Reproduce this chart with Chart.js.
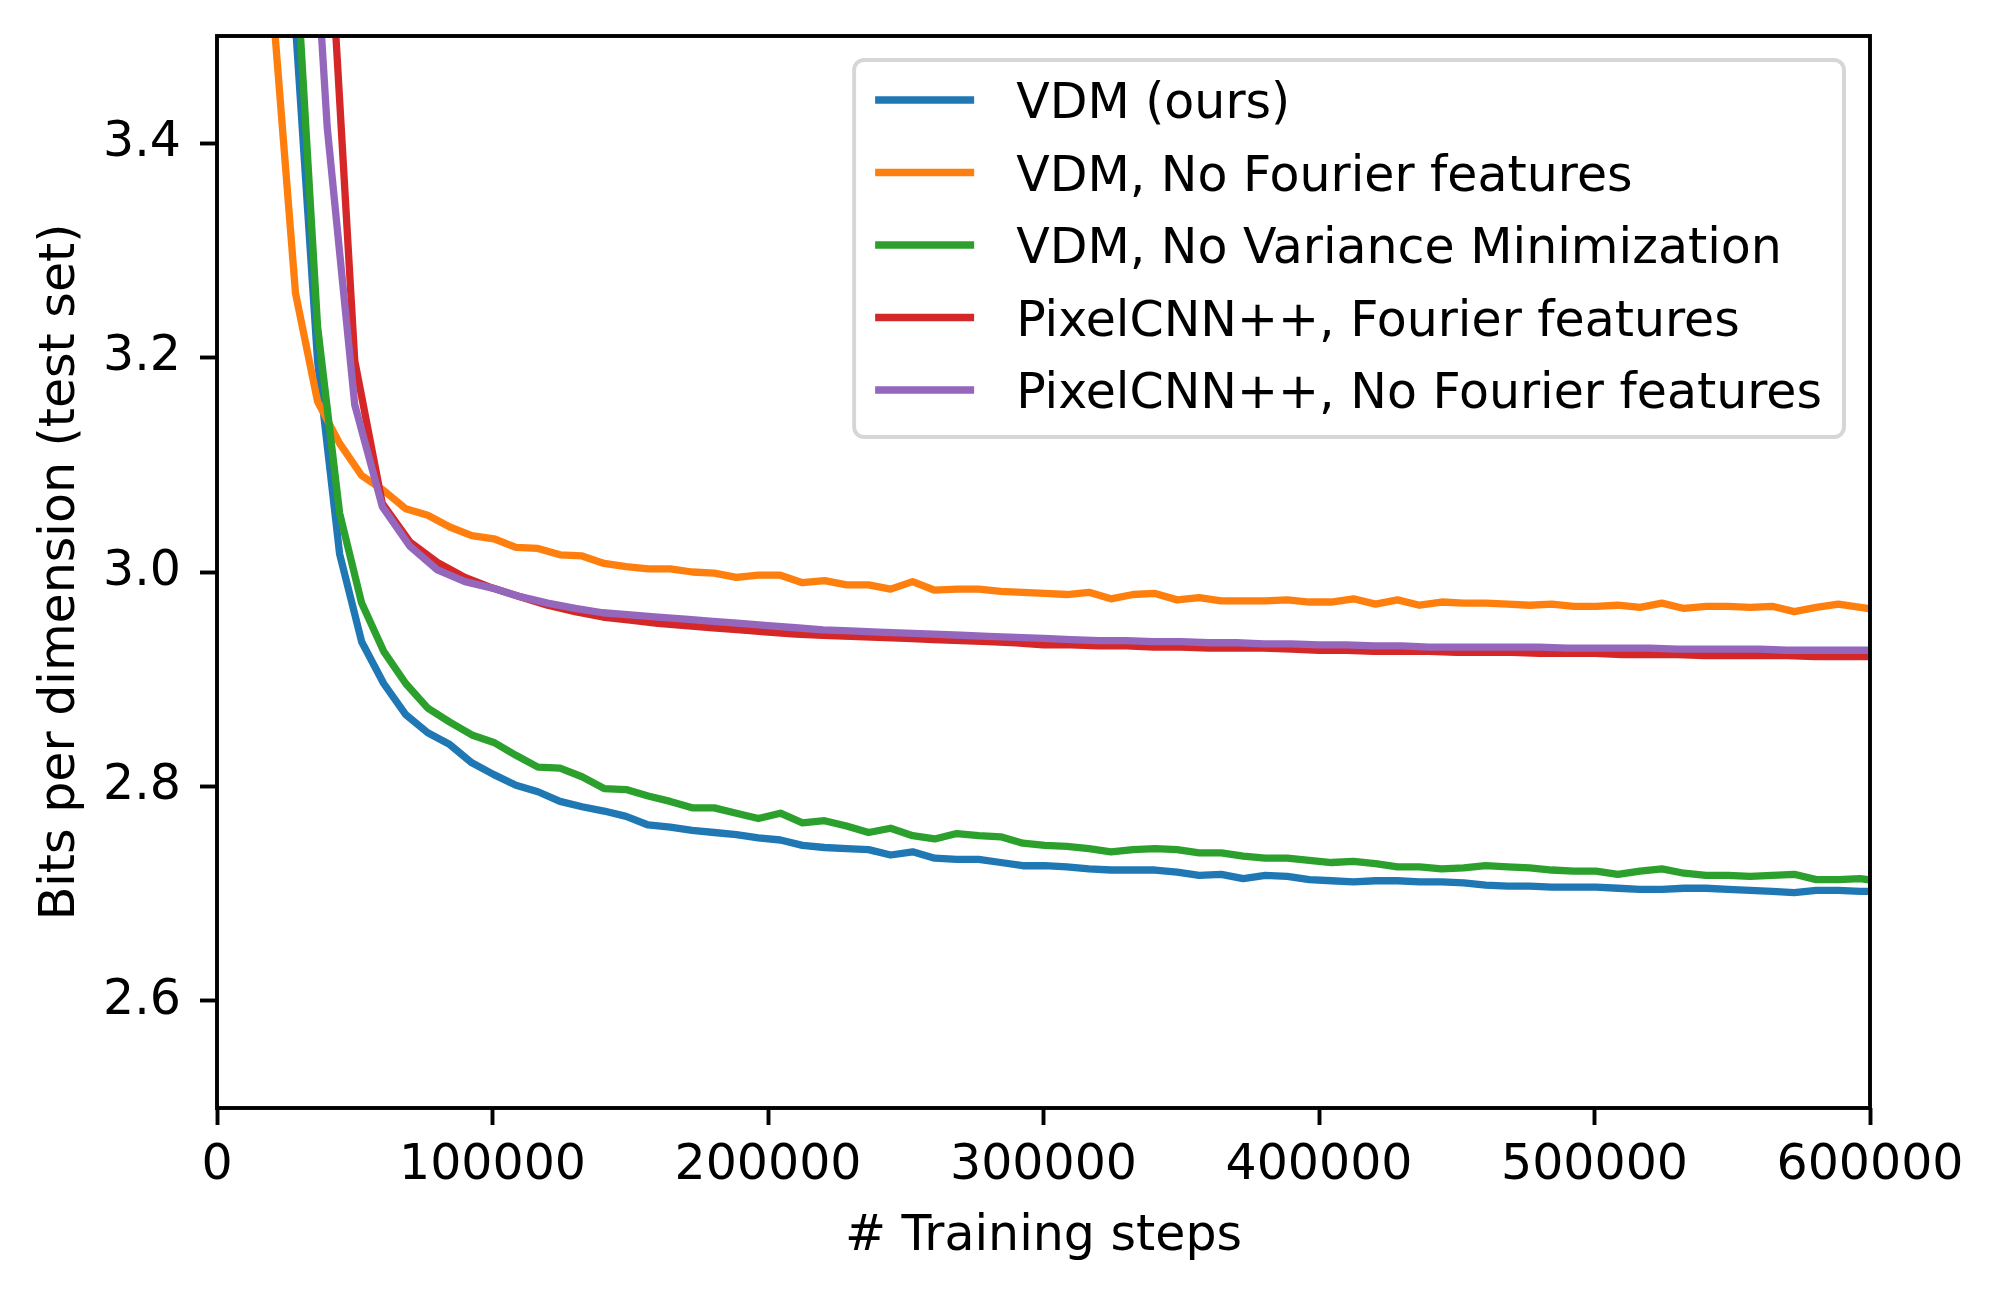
<!DOCTYPE html>
<html>
<head>
<meta charset="utf-8">
<title>Bits per dimension vs training steps</title>
<script src="https://cdn.jsdelivr.net/npm/chart.js@4.4.1/dist/chart.umd.min.js"></script>
<style>
    html, body { margin: 0; padding: 0; background: #fff; }
    #wrap { width: 2000px; height: 1296px; }
</style>
</head>
<body>
<div id="wrap"><canvas id="bpdChart" width="2000" height="1296"></canvas></div>
<script>
// evaluation steps of the three VDM runs
const vdmSteps = [4500, 12500, 20500, 28500, 36500, 44500, 52500, 60500, 68500, 76500,
    84500, 92500, 100500, 108500, 116500, 124500, 132500, 140500, 148500, 156500,
    164500, 172500, 180500, 188500, 196500, 204500, 212500, 220500, 228500, 236500,
    244500, 252500, 260500, 268500, 276500, 284500, 292500, 300500, 308500, 316500,
    324500, 332500, 340500, 348500, 356500, 364500, 372500, 380500, 388500, 396500,
    404500, 412500, 420500, 428500, 436500, 444500, 452500, 460500, 468500, 476500,
    484500, 492500, 500500, 508500, 516500, 524500, 532500, 540500, 548500, 556500,
    564500, 572500, 580500, 588500, 596500, 604500];

// evaluation steps of the two PixelCNN++ runs
const pixelSteps = [30000, 40000, 50000, 60000, 70000, 80000, 90000, 100000, 110000, 120000,
    130000, 140000, 150000, 160000, 170000, 180000, 190000, 200000, 210000, 220000,
    230000, 240000, 250000, 260000, 270000, 280000, 290000, 300000, 310000, 320000,
    330000, 340000, 350000, 360000, 370000, 380000, 390000, 400000, 410000, 420000,
    430000, 440000, 450000, 460000, 470000, 480000, 490000, 500000, 510000, 520000,
    530000, 540000, 550000, 560000, 570000, 580000, 590000, 600000];

const vdmOurs = [null, null, null, 3.51, 3.197, 3.017, 2.935, 2.896, 2.867, 2.850,
    2.839, 2.822, 2.811, 2.801, 2.795, 2.786, 2.781, 2.777, 2.772, 2.764,
    2.762, 2.759, 2.757, 2.755, 2.752, 2.750, 2.745, 2.743, 2.742, 2.741,
    2.736, 2.739, 2.733, 2.732, 2.732, 2.729, 2.726, 2.726, 2.725, 2.723,
    2.722, 2.722, 2.722, 2.720, 2.717, 2.718, 2.714, 2.717, 2.716, 2.713,
    2.712, 2.711, 2.712, 2.712, 2.711, 2.711, 2.710, 2.708, 2.707, 2.707,
    2.706, 2.706, 2.706, 2.705, 2.704, 2.704, 2.705, 2.705, 2.704, 2.703,
    2.702, 2.701, 2.703, 2.703, 2.702, 2.702];

const vdmNoFourier = [null, null, 3.52, 3.26, 3.159, 3.120, 3.090, 3.076, 3.059, 3.053,
    3.042, 3.034, 3.031, 3.023, 3.022, 3.016, 3.015, 3.008, 3.005, 3.003,
    3.003, 3.000, 2.999, 2.995, 2.997, 2.997, 2.990, 2.992, 2.988, 2.988,
    2.984, 2.991, 2.983, 2.984, 2.984, 2.982, 2.981, 2.980, 2.979, 2.981,
    2.975, 2.979, 2.980, 2.974, 2.976, 2.973, 2.973, 2.973, 2.974, 2.972,
    2.972, 2.975, 2.970, 2.974, 2.969, 2.972, 2.971, 2.971, 2.970, 2.969,
    2.970, 2.968, 2.968, 2.969, 2.967, 2.971, 2.966, 2.968, 2.968, 2.967,
    2.968, 2.963, 2.967, 2.970, 2.967, 2.964];

const vdmNoVarMin = [null, null, null, 3.579, 3.229, 3.055, 2.971, 2.926, 2.896, 2.873,
    2.860, 2.848, 2.841, 2.829, 2.818, 2.817, 2.809, 2.798, 2.797, 2.791,
    2.786, 2.780, 2.780, 2.775, 2.770, 2.775, 2.766, 2.768, 2.763, 2.757,
    2.761, 2.754, 2.751, 2.756, 2.754, 2.753, 2.747, 2.745, 2.744, 2.742,
    2.739, 2.741, 2.742, 2.741, 2.738, 2.738, 2.735, 2.733, 2.733, 2.731,
    2.729, 2.730, 2.728, 2.725, 2.725, 2.723, 2.724, 2.726, 2.725, 2.724,
    2.722, 2.721, 2.721, 2.718, 2.721, 2.723, 2.719, 2.717, 2.717, 2.716,
    2.717, 2.718, 2.713, 2.713, 2.714, 2.711];

const pixelFourier = [null, 3.64, 3.197, 3.064, 3.028, 3.009, 2.995, 2.985, 2.977, 2.969,
    2.963, 2.958, 2.955, 2.952, 2.950, 2.948, 2.946, 2.944, 2.942, 2.941,
    2.940, 2.939, 2.938, 2.937, 2.936, 2.935, 2.934, 2.932, 2.932, 2.931,
    2.931, 2.930, 2.930, 2.929, 2.929, 2.929, 2.928, 2.927, 2.927, 2.926,
    2.926, 2.926, 2.925, 2.925, 2.925, 2.924, 2.924, 2.924, 2.923, 2.923,
    2.923, 2.922, 2.922, 2.922, 2.922, 2.921, 2.921, 2.921];

const pixelNoFourier = [3.83, 3.415, 3.156, 3.061, 3.024, 3.002, 2.991, 2.985, 2.977, 2.971,
    2.966, 2.962, 2.960, 2.958, 2.956, 2.954, 2.952, 2.950, 2.948, 2.946,
    2.945, 2.944, 2.943, 2.942, 2.941, 2.940, 2.939, 2.938, 2.937, 2.936,
    2.936, 2.935, 2.935, 2.934, 2.934, 2.933, 2.933, 2.932, 2.932, 2.931,
    2.931, 2.930, 2.930, 2.930, 2.930, 2.930, 2.929, 2.929, 2.929, 2.929,
    2.928, 2.928, 2.928, 2.928, 2.927, 2.927, 2.927, 2.927];

const seriesNames = ['VDM (ours)', 'VDM, No Fourier features', 'VDM, No Variance Minimization',
    'PixelCNN++, Fourier features', 'PixelCNN++, No Fourier features'];
const seriesColors = ['#1f77b4', '#ff7f0e', '#2ca02c', '#d62728', '#9467bd'];

const xTicks = [0, 100000, 200000, 300000, 400000, 500000, 600000];
const yTicks = [2.6, 2.8, 3.0, 3.2, 3.4];

const FONT = '"DejaVu Sans", "Liberation Sans", sans-serif';
const FS = 49;

function toPoints(steps, values) {
    return steps.map((s, i) => ({ x: s, y: values[i] }));
}

// black box round the plot area, like matplotlib spines
const frame = {
    id: 'frame',
    afterDatasetsDraw(chart) {
        const { ctx, chartArea } = chart;
        ctx.save();
        ctx.strokeStyle = '#000';
        ctx.lineWidth = 3.9;
        ctx.strokeRect(chartArea.left, chartArea.top,
            chartArea.right - chartArea.left, chartArea.bottom - chartArea.top);
        ctx.restore();
    }
};

// legend drawn inside the axes, upper right
const insideLegend = {
    id: 'insideLegend',
    afterDraw(chart) {
        const { ctx, chartArea } = chart;
        ctx.save();
        ctx.font = FS + 'px ' + FONT;
        const textW = Math.max(...seriesNames.map(n => ctx.measureText(n).width));
        const handleLen = 99;
        const rowH = 72.5;
        const boxW = 21 + handleLen + 42 + textW + 22;
        const boxH = 377;
        const right = chartArea.right - 26;
        const left = right - boxW;
        const top = chartArea.top + 24;

        ctx.beginPath();
        ctx.roundRect(left, top, boxW, boxH, 10);
        ctx.fillStyle = 'rgba(255,255,255,0.8)';
        ctx.fill();
        ctx.strokeStyle = 'rgba(204,204,204,0.8)';
        ctx.lineWidth = 3.9;
        ctx.stroke();

        seriesNames.forEach((name, i) => {
            const y = top + 40 + i * rowH;
            ctx.beginPath();
            ctx.moveTo(left + 21, y);
            ctx.lineTo(left + 21 + handleLen, y);
            ctx.strokeStyle = seriesColors[i];
            ctx.lineWidth = 7.3;
            ctx.stroke();
            ctx.fillStyle = '#000';
            ctx.textAlign = 'left';
            ctx.textBaseline = 'alphabetic';
            ctx.fillText(name, left + 21 + handleLen + 42, y + 18);
        });
        ctx.restore();
    }
};

const seriesData = [
    toPoints(vdmSteps, vdmOurs),
    toPoints(vdmSteps, vdmNoFourier),
    toPoints(vdmSteps, vdmNoVarMin),
    toPoints(pixelSteps, pixelFourier),
    toPoints(pixelSteps, pixelNoFourier)
];

const ctx = document.getElementById('bpdChart').getContext('2d');
new Chart(ctx, {
    type: 'line',
    data: {
        datasets: seriesData.map((pts, i) => ({
            label: seriesNames[i],
            data: pts,
            borderColor: seriesColors[i],
            backgroundColor: seriesColors[i],
            borderWidth: 7.3,
            borderJoinStyle: 'round',
            pointRadius: 0,
            tension: 0,
            fill: false,
            clip: 0,
            // later series drawn on top, as in the original
            order: seriesNames.length - i
        }))
    },
    options: {
        responsive: false,
        devicePixelRatio: 1,
        animation: false,
        layout: { padding: { left: 0, right: 130, top: 36, bottom: 0 } },
        plugins: {
            legend: { display: false },
            tooltip: { enabled: false }
        },
        scales: {
            x: {
                type: 'linear',
                min: 0,
                max: 600000,
                afterBuildTicks: s => { s.ticks = xTicks.map(v => ({ value: v })); },
                afterFit: s => {
                    s.height = 188;
                    s.paddingLeft = 0;
                    s.paddingRight = 0;
                },
                grid: { drawOnChartArea: false, drawTicks: true, tickLength: 17, tickWidth: 3.9, tickColor: '#000' },
                border: { display: false },
                ticks: {
                    color: '#000',
                    padding: 12,
                    maxRotation: 0,
                    autoSkip: false,
                    font: { family: FONT, size: FS },
                    callback: v => String(v)
                },
                title: {
                    display: true,
                    text: '# Training steps',
                    color: '#000',
                    font: { family: FONT, size: FS },
                    padding: { top: 0, bottom: 29 }
                }
            },
            y: {
                type: 'linear',
                min: 2.5,
                max: 3.5,
                afterBuildTicks: s => { s.ticks = yTicks.map(v => ({ value: v })); },
                afterFit: s => {
                    s.width = 217;
                    s.paddingTop = 0;
                    s.paddingBottom = 0;
                },
                grid: { drawOnChartArea: false, drawTicks: true, tickLength: 17, tickWidth: 3.9, tickColor: '#000' },
                border: { display: false },
                ticks: {
                    color: '#000',
                    padding: 19,
                    font: { family: FONT, size: FS },
                    callback: v => v.toFixed(1)
                },
                title: {
                    display: true,
                    text: 'Bits per dimension (test set)',
                    color: '#000',
                    font: { family: FONT, size: FS },
                    padding: { top: 32, bottom: 0 }
                }
            }
        }
    },
    plugins: [frame, insideLegend]
});
</script>
</body>
</html>
